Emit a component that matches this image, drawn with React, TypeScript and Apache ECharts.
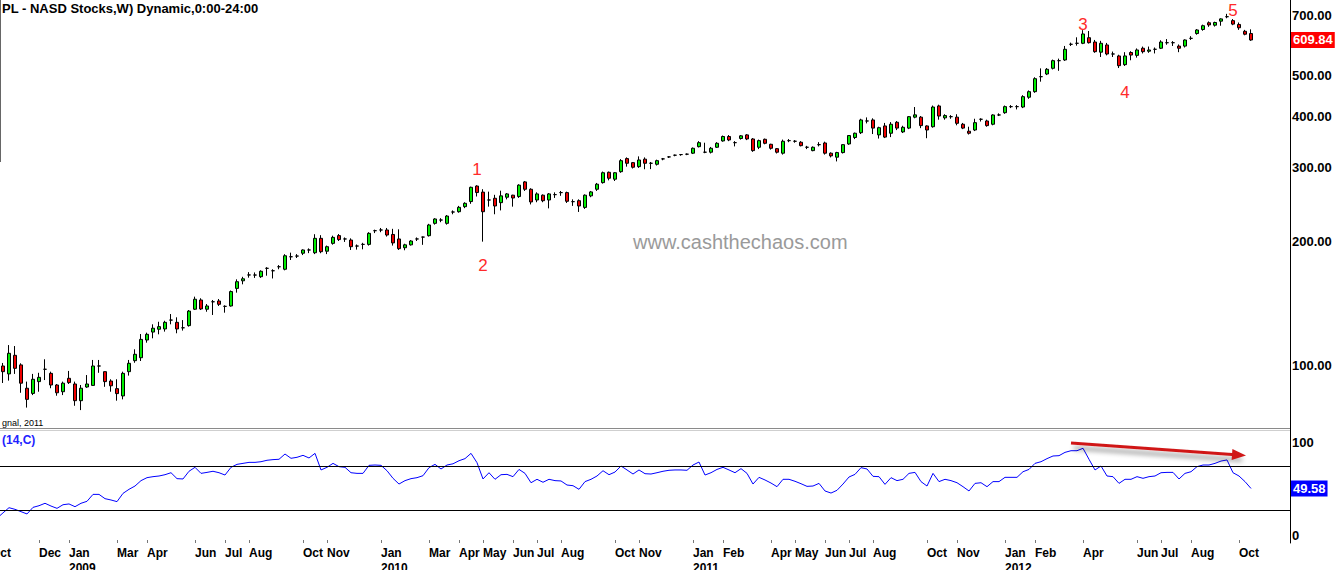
import React, { useEffect, useRef } from 'react';
import * as echarts from 'echarts';

const FONT = '"Liberation Sans", Arial, sans-serif';

// ---- Data (weekly AAPL, Oct 2008 - Oct 2012) ----
const firstWeek = '2008-10-06';
const totalSlots = 217; // weekly category slots incl. empty space at the right

// [open, high, low, close]
const ohlc: number[][] = [
  [92, 100, 85, 96.8], [104, 116, 91, 97.4], [100, 101.7, 91.0, 96.9], [95.7, 112.3, 92.2, 107.3],
  [106.1, 111.7, 95.7, 98.7], [100.6, 101.5, 86.2, 90.9], [88.4, 91.7, 79.4, 83.1], [85.9, 95.7, 85.1, 92.9],
  [91.7, 96.3, 86.7, 93.9], [98.2, 103.8, 92.5, 98.2], [96.0, 96.9, 88.4, 90.0], [90.0, 90.5, 84.8, 86.2],
  [86.7, 91.7, 85.1, 90.9], [93.4, 97.3, 90.5, 91.2], [90.5, 91.7, 80.2, 82.5], [82.5, 90.0, 78.3, 88.4],
  [89.0, 95.1, 88.6, 90.5], [89.8, 103.4, 89.5, 100.0], [100, 103.4, 96.3, 100], [96.9, 97.0, 89.1, 91.7],
  [92.0, 92.9, 86.7, 89.6], [88.2, 92.9, 82.5, 85.8], [84.7, 96.9, 83.1, 96.0], [96.9, 103.4, 94.8, 101.5],
  [103.0, 109.7, 101.8, 106.7], [104.7, 119.4, 102.8, 115.9], [115.5, 120.3, 113.8, 119.2], [120.7, 126.0, 116.6, 123.3],
  [122.6, 127.8, 119.2, 124.4], [122.8, 128.5, 121.0, 127.4], [129, 133.4, 126, 129], [127.4, 131, 119.9, 122.8],
  [123.6, 129, 121.7, 123.6], [125.1, 136.4, 124.4, 135.6], [137, 146.9, 136.4, 144.8], [144.2, 145.6, 136.4, 137.2],
  [137, 141, 135.1, 139.5], [142.8, 144.2, 132.7, 142.8], [143.4, 145, 139.5, 140.8], [139.2, 140, 134.4, 139.2],
  [139.5, 152, 139, 151.1], [153.8, 161.7, 150.2, 159.6], [160.4, 164, 157.3, 162.2], [165.7, 168.3, 163.2, 165.7],
  [165.6, 168, 163, 165.6], [164.1, 170, 163, 169.1], [171.9, 173, 165, 171.9], [169.6, 171, 162.5, 169.6],
  [173.4, 175, 171, 173.4], [171, 185.9, 170, 184.3], [183.3, 187.5, 180, 183.3], [184, 186, 182, 184],
  [186.9, 191, 185, 190.3], [190.3, 192, 187, 190.3], [187.4, 207.7, 186, 203], [203, 206.6, 186.9, 188.5],
  [189, 195, 186, 193.8], [197.4, 206, 196, 204.1], [206.1, 207.9, 200, 201.6], [202.3, 204, 199, 202.3],
  [201.1, 203, 190.3, 193.8], [194.5, 196.2, 190.7, 194.5], [196.3, 198, 191, 196.3], [196.3, 210, 195, 208.7],
  [211.8, 213, 209, 211.8], [212.6, 215, 210, 212.6], [212.6, 215, 205, 206.8], [207.4, 214, 195, 197.9],
  [202.3, 213.4, 190.3, 191.7], [192.7, 197, 190, 195.8], [195.8, 201, 195, 200], [202.3, 204, 200, 202.3],
  [204.4, 205, 195.8, 204.4], [206, 220, 205, 218.6], [220.6, 227, 219, 226], [224.7, 227, 222, 224.7],
  [220.6, 231, 219, 229.7], [234.9, 237, 232, 234.9], [235.3, 243, 234, 241.1], [242, 248, 240, 246.5],
  [248.9, 270.4, 245.8, 269.4], [271.3, 272.5, 256, 261.7], [262.3, 266.6, 199.3, 235.3], [251.1, 263, 242, 251.1],
  [253.5, 258.4, 232, 242.9], [247.4, 264.4, 237, 256.9], [255, 261, 252, 259.7], [257.9, 258.5, 242, 253.9],
  [255.9, 274, 254, 272.7], [277.6, 279, 264, 266.5], [266.5, 268, 245, 248.4], [251.1, 262, 248, 259.7],
  [257.9, 259, 248, 250.1], [251.1, 261, 239.7, 259.7], [258.7, 262, 254, 258.7], [261.6, 264, 257, 261.6],
  [261.6, 263, 247, 249.3], [248.8, 252, 243, 248.8], [250.1, 252, 235, 242.9], [241, 259, 239, 257.9],
  [256.9, 264, 255, 262.6], [266.5, 276, 264, 274.1], [276.5, 294, 275, 292.1], [292.8, 294, 280, 283.3],
  [281.8, 293, 279, 292.1], [293.8, 315, 292, 312.3], [315.9, 318, 302.1, 307.8], [308.9, 310, 299, 301.1],
  [302.1, 319.8, 300, 313.5], [314.9, 318, 297.8, 307.8], [307.8, 310, 298, 307.8], [306.1, 314, 304, 312.3],
  [315.4, 317, 313, 315.4], [318.9, 320, 317, 318.9], [321.9, 323, 320, 321.9], [323, 324, 321, 323],
  [323.7, 325, 322, 323.7], [325.5, 336, 324, 334.5], [337.5, 348, 336, 345.1], [327.3, 345, 325.5, 327.3],
  [327.3, 337, 325, 334.5], [336.4, 346, 335, 343.9], [348.4, 359, 347, 357.1], [357.1, 360, 348, 350.3],
  [345.1, 348, 338, 345.1], [353.2, 360, 351, 358.4], [360.3, 362, 350, 352.2], [352.2, 354, 328, 330.2],
  [336.4, 351, 333, 349], [351.6, 353, 342, 343.9], [342, 343, 332, 334.5], [333.8, 335, 325, 327.3],
  [325.5, 351, 323, 347.8], [349, 352, 346, 349], [347.8, 350, 345, 347.8], [345.9, 348, 338, 339.4],
  [336.4, 339, 333, 336.4], [330.2, 338, 329, 336.4], [341.3, 346, 338, 341.3], [344.5, 347, 323, 325.5],
  [325.5, 327, 318, 320.7], [318.4, 328, 311, 326.6], [326.6, 342, 325, 341.3], [342.6, 360, 341, 359],
  [355.1, 365, 352, 363.6], [364.7, 394, 362, 391.4], [389.2, 397, 384, 389.2], [391.4, 395, 362, 374.1],
  [360.3, 377, 353, 375], [378.6, 385, 354, 355.9], [363.6, 386.8, 355.9, 382.2], [386.4, 389, 370, 374.1],
  [366.3, 379, 364, 375.8], [374.1, 400, 372, 398.6], [397.5, 420.5, 395, 402.6], [397.5, 400, 374, 379.3],
  [378.6, 380, 353.7, 370.2], [377, 424, 375, 420.5], [423, 426, 392, 400], [396, 404, 392, 401],
  [398.6, 402, 394, 398.6], [397.5, 404, 380, 384.2], [382.2, 385, 372, 374.1], [367.7, 377, 361, 363.6],
  [370.2, 394, 368, 385.6], [392.9, 395, 388, 392.9], [389.2, 392, 377, 379.3], [382.2, 404, 380, 402.4],
  [402.4, 406, 400, 402.4], [407.5, 424, 405, 421.4], [421.4, 425, 418, 421.4], [421.4, 425, 415, 421.4],
  [420.5, 449, 418, 445.4], [444, 461, 440, 457.9], [457.9, 496, 455, 492.1], [497.6, 521, 484, 497.6],
  [505, 522, 502, 518.4], [521.3, 547, 518, 543.8], [543.8, 550, 514, 543.8], [545.9, 590, 543, 579.2],
  [595.5, 601, 590, 595.5], [598.8, 619, 591, 598.8], [598.8, 644, 596, 630.6], [617.7, 641, 598, 600.8],
  [603, 610, 568, 571.6], [570, 607, 555, 598.8], [593.3, 600, 560, 564.3], [564.3, 572, 555, 564.3],
  [558.2, 562, 522, 528.9], [531.9, 570, 528, 558.2], [569, 573, 545, 561], [560, 582, 553, 577],
  [582.6, 588, 566, 571.6], [573, 588, 568, 577], [579.2, 585, 566, 579.2], [582.6, 609, 580, 603.1],
  [600.8, 613, 594, 600.8], [600.8, 606, 590, 600.8], [589.6, 595, 570, 582.6], [589.6, 612, 585, 609.9],
  [615.5, 623, 610, 615.5], [632.1, 648, 628, 644.7], [646.4, 664, 642, 660.1], [671, 676, 656, 663],
  [662, 675, 657, 672], [677, 688, 660, 685.6], [694, 705, 688, 694], [679, 685, 662, 666],
  [664.8, 672, 645, 652.6], [640, 645, 626, 629.7], [632, 647, 607, 609.84],
];

const rsi14: number[] = [
  24, 22.5, 27.4, 32.1, 30.6, 28.5, 26.4, 32.4, 33.9, 36.1, 33.6, 31.5, 34.8, 35.5, 33.0, 36.1, 37.9, 44.2, 44.2, 40.3,
  39.1, 37.6, 45.1, 48.8, 51.8, 56.7, 59.4, 60.3, 60.9, 62.1, 63.9, 58.5, 58.2, 65.2, 68.8, 63.3, 64.2, 65.2, 63.9, 61.8,
  68.8, 71.5, 72.4, 73.3, 73.3, 73.9, 75.2, 75.8, 76.1, 80.9, 77.0, 77.9, 79.7, 77.3, 81.5, 66.4, 68.8, 72.4, 69.4, 68.8,
  63.9, 63.3, 63.3, 70.6, 70.9, 70.6, 65.7, 58.8, 53.6, 56.7, 58.5, 59.4, 61.2, 68.5, 71.5, 67.3, 70.9, 72.0, 74.8, 76.7,
  81.5, 73.0, 58.2, 63.9, 57.9, 62.1, 62.4, 60.3, 66.9, 63.3, 54.8, 57.9, 55.2, 57.9, 56.7, 56.4, 52.7, 52.1, 48.8, 55.8,
  57.9, 60.9, 65.7, 62.1, 64.5, 70.0, 66.4, 62.7, 66.4, 63.0, 62.7, 63.9, 65.2, 66.1, 66.4, 66.4, 66.1, 70.9, 73.6, 61.8,
  63.9, 66.9, 68.8, 66.4, 63.9, 67.6, 63.3, 53.6, 59.7, 57.3, 54.5, 51.2, 57.9, 57.9, 56.1, 53.9, 51.5, 51.8, 54.2, 47.3,
  45.4, 47.9, 53.6, 60.0, 62.4, 68.5, 67.3, 60.6, 60.3, 53.3, 59.4, 56.7, 57.9, 63.3, 64.2, 55.8, 51.8, 63.3, 55.8, 57.9,
  56.7, 54.8, 51.2, 47.3, 54.2, 54.8, 51.2, 55.8, 55.8, 59.7, 59.7, 59.7, 64.8, 66.9, 72.4, 73.9, 76.7, 79.1, 79.4, 82.4,
  83.9, 83.9, 86.1, 76.1, 66.4, 70.0, 60.9, 60.3, 54.2, 57.9, 57.9, 60.3, 58.8, 60.3, 60.9, 63.9, 64.2, 64.2, 58.2, 63.3,
  64.8, 69.4, 70.9, 70.9, 72.4, 74.5, 75.5, 63.9, 60.9, 55.8, 49.58,
];

const priceTicks = [100, 200, 300, 400, 500, 700];
const lastClose = 609.84;
const rsiGuides = [30, 70];
const lastRsi = 49.58;

const tickWeeks = [
  '2008-10-06', '2008-12-01', '2009-01-05', '2009-03-02', '2009-04-06', '2009-06-01', '2009-07-06', '2009-08-03',
  '2009-10-05', '2009-11-02', '2010-01-04', '2010-03-01', '2010-04-05', '2010-05-03', '2010-06-07', '2010-07-05',
  '2010-08-02', '2010-10-04', '2010-11-01', '2011-01-03', '2011-02-07', '2011-04-04', '2011-05-02', '2011-06-06',
  '2011-07-04', '2011-08-01', '2011-10-03', '2011-11-07', '2012-01-02', '2012-02-06', '2012-04-02', '2012-06-04',
  '2012-07-02', '2012-08-06', '2012-10-01',
];
const tickTexts = [
  'Oct', 'Dec', 'Jan\n2009', 'Mar', 'Apr', 'Jun', 'Jul', 'Aug',
  'Oct', 'Nov', 'Jan\n2010', 'Mar', 'Apr', 'May', 'Jun', 'Jul',
  'Aug', 'Oct', 'Nov', 'Jan\n2011', 'Feb', 'Apr', 'May', 'Jun',
  'Jul', 'Aug', 'Oct', 'Nov', 'Jan\n2012', 'Feb', 'Apr', 'Jun',
  'Jul', 'Aug', 'Oct',
];

const waveLabels = ['1', '2', '3', '4', '5'];
const waveWeeks = ['2010-04-26', '2010-05-03', '2012-04-02', '2012-05-21', '2012-09-24'];
const wavePrices = [298, 175, 666, 457, 720];

const arrowFrom = { week: '2012-03-19', rsi: 91 };
const arrowTo = { week: '2012-10-01', rsi: 80 };

function buildWeeks(): string[] {
  const out: string[] = [];
  const [y, m, d] = firstWeek.split('-').map(Number);
  const t0 = Date.UTC(y, m - 1, d);
  for (let i = 0; i < totalSlots; i++) {
    out.push(new Date(t0 + i * 7 * 86400000).toISOString().slice(0, 10));
  }
  return out;
}

function buildOption() {
  const weeks = buildWeeks();
  const tickMap: Record<string, string> = {};
  tickWeeks.forEach((w, k) => (tickMap[w] = tickTexts[k]));
  const isTick = (_i: number, v: string) => tickMap[v] !== undefined;

  const candles = ohlc.map(([o, h, l, c]) => [o, c, l, h]);
  const hidden = { color: 'rgba(0,0,0,0)', width: 0 };
  const axisLabelStyle = { color: '#000', fontWeight: 'bold', fontSize: 13, fontFamily: FONT };

  return {
    animation: false,
    backgroundColor: '#ffffff',
    textStyle: { fontFamily: FONT },
    grid: [
      { left: -12, top: 0, width: 1302, height: 428, containLabel: false, outerBoundsMode: 'none' },
      { left: -12, top: 433, width: 1302, height: 110, containLabel: false, outerBoundsMode: 'none' },
    ],
    xAxis: [
      { type: 'category', gridIndex: 0, data: weeks, boundaryGap: true, show: false },
      {
        type: 'category', gridIndex: 1, data: weeks, boundaryGap: true,
        axisLine: { show: false },
        axisTick: { show: true, alignWithLabel: true, interval: isTick, length: 3, inside: true, lineStyle: { color: '#777' } },
        axisLabel: {
          interval: isTick, formatter: (v: string) => tickMap[v] ?? '', align: 'left', margin: 2,
          color: '#000', fontWeight: 'bold', fontSize: 12, lineHeight: 15, fontFamily: FONT,
        },
        splitLine: { show: false },
      },
    ],
    yAxis: [
      {
        type: 'log', logBase: 10, gridIndex: 0, position: 'right', min: 70.9, max: 761.3,
        axisLine: { show: true, lineStyle: { color: '#000', width: 1 } },
        axisTick: { show: false }, axisLabel: { show: false }, splitLine: { show: false },
      },
      {
        type: 'value', gridIndex: 1, position: 'right', min: 0, max: 100, interval: 100,
        axisLine: { show: true, lineStyle: { color: '#000', width: 1 } },
        axisTick: { show: false }, splitLine: { show: false },
        axisLabel: {
          margin: 2,
          formatter: (v: number) => (v === 100 ? '{t|100}' : v === 0 ? '{b|0}' : ''),
          rich: {
            t: { ...axisLabelStyle, padding: [18, 0, 0, 0] },
            b: { ...axisLabelStyle, padding: [0, 0, 16, 0] },
          },
        },
      },
    ],
    series: [
      {
        type: 'candlestick', xAxisIndex: 0, yAxisIndex: 0, data: candles, barWidth: 4,
        itemStyle: {
          color: '#00ee00', color0: '#ee0000', borderColor: '#000', borderColor0: '#000',
          borderColorDoji: '#000', borderWidth: 1,
        },
        markLine: {
          silent: true, symbol: 'none', animation: false,
          data: [
            ...priceTicks.map((v) => ({
              yAxis: v, lineStyle: hidden,
              label: { show: true, position: 'end', distance: 2, formatter: v.toFixed(2), ...axisLabelStyle },
            })),
            {
              yAxis: lastClose, lineStyle: hidden,
              label: {
                show: true, position: 'end', distance: 1, formatter: lastClose.toFixed(2),
                ...axisLabelStyle, color: '#fff', backgroundColor: '#ff0000', padding: [2, 2, 1, 2],
              },
            },
          ],
        },
        markPoint: {
          silent: true, symbol: 'circle', symbolSize: 1, animation: false,
          itemStyle: { color: 'rgba(0,0,0,0)' },
          label: { show: true, position: 'inside', color: '#ff2a2a', fontSize: 17, fontFamily: FONT, formatter: '{b}' },
          data: waveLabels.map((t, k) => ({ name: t, coord: [waveWeeks[k], wavePrices[k]] })),
        },
      },
      {
        type: 'line', xAxisIndex: 1, yAxisIndex: 1, data: rsi14, symbol: 'none', showSymbol: false,
        lineStyle: { color: '#0000ff', width: 1 }, itemStyle: { color: '#0000ff' },
        markLine: {
          silent: true, symbol: 'none', animation: false,
          data: [
            ...rsiGuides.map((v) => ({ yAxis: v, lineStyle: { color: '#000', width: 1, type: 'solid' }, label: { show: false } })),
            {
              yAxis: lastRsi, lineStyle: hidden,
              label: {
                show: true, position: 'end', distance: 1, formatter: lastRsi.toFixed(2),
                ...axisLabelStyle, color: '#fff', backgroundColor: '#0000ff', padding: [2, 2, 1, 2],
              },
            },
            [
              {
                coord: [arrowFrom.week, arrowFrom.rsi], symbol: 'none',
                lineStyle: {
                  color: '#d01818', width: 3, type: 'solid',
                  shadowBlur: 5, shadowColor: 'rgba(0,0,0,0.45)', shadowOffsetX: 3, shadowOffsetY: 5,
                },
                label: { show: false },
              },
              { coord: [arrowTo.week, arrowTo.rsi], symbol: 'triangle', symbolSize: [11, 14], itemStyle: { color: '#d01818' } },
            ],
          ],
        },
      },
    ],
    graphic: [
      { type: 'line', shape: { x1: 0.5, y1: 0, x2: 0.5, y2: 162 }, style: { stroke: '#666', lineWidth: 1 } },
      { type: 'line', shape: { x1: 0, y1: 428.5, x2: 1290, y2: 428.5 }, style: { stroke: '#8a8a8a', lineWidth: 1 } },
      { type: 'line', shape: { x1: 0, y1: 430.5, x2: 1290, y2: 430.5 }, style: { stroke: '#cfcfcf', lineWidth: 1 } },
      { type: 'line', shape: { x1: 1290.5, y1: 427, x2: 1290.5, y2: 434 }, style: { stroke: '#000', lineWidth: 1 } },
      {
        type: 'text', left: 2, top: 2,
        style: { text: 'PL - NASD Stocks,W) Dynamic,0:00-24:00', fill: '#000', font: `bold 13px ${FONT}` },
      },
      { type: 'text', left: 2, top: 418, style: { text: 'gnal, 2011', fill: '#000', font: `9px ${FONT}` } },
      { type: 'text', left: 2, top: 434, style: { text: '(14,C)', fill: '#2222ff', font: `bold 12px ${FONT}` } },
      {
        type: 'text', left: 633, top: 232,
        style: { text: 'www.cashthechaos.com', fill: '#9a9a9a', font: `20px ${FONT}` },
      },
    ],
  };
}

export default function App() {
  const ref = useRef<HTMLDivElement>(null);
  useEffect(() => {
    if (!ref.current) return;
    const chart = echarts.init(ref.current, undefined, { renderer: 'svg' });
    chart.setOption(buildOption() as any);
    return () => chart.dispose();
  }, []);
  return (
    <div
      ref={ref}
      style={{ position: 'absolute', left: 0, top: 0, width: 1335, height: 570, background: '#fff' }}
    />
  );
}
